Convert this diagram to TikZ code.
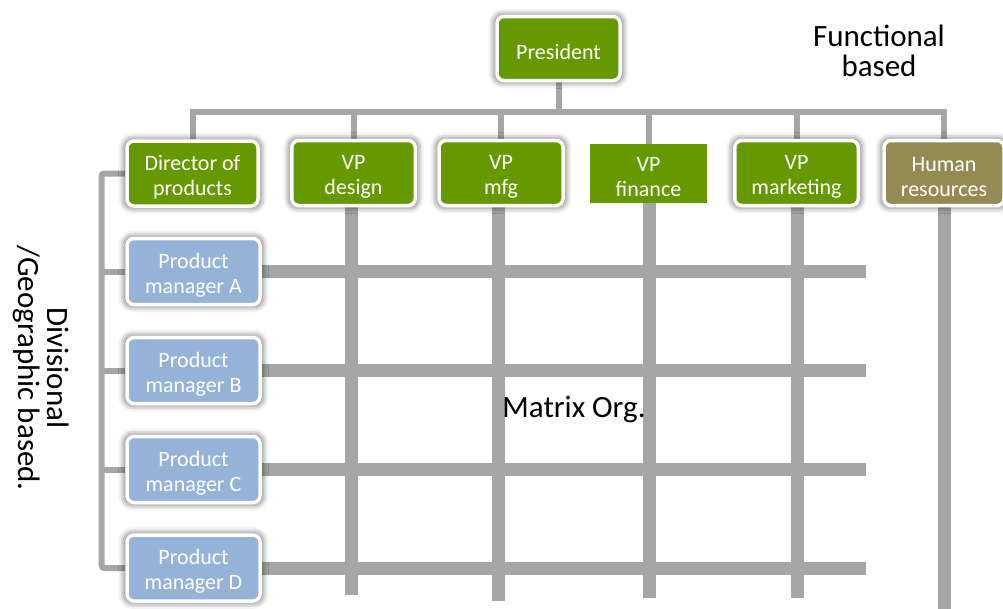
\documentclass[tikz,border=0pt]{standalone}
\usepackage{fontspec}
\setmainfont{Carlito}
\usetikzlibrary{shadows.blur,backgrounds}
\definecolor{boxgreen}{RGB}{102,153,0}
\definecolor{boxblue}{RGB}{149,179,215}
\definecolor{boxolive}{RGB}{148,138,84}
\definecolor{linegray}{RGB}{166,166,166}
% taller first line so the label sits a little low in its box
\newcommand{\liftline}{\rule{0pt}{22pt}}

\begin{document}
\begin{tikzpicture}[x=1pt,y=-1pt,
  unit/.style={rounded corners=7pt, draw=white, line width=3.5pt,
    minimum height=65pt, inner sep=0pt, text=white, align=center,
    font=\fontsize{22}{25}\selectfont,
    blur shadow={shadow xshift=0pt, shadow yshift=0pt,
      shadow blur radius=7pt, shadow opacity=75, shadow scale=1.02}},
  plainunit/.style={rectangle, inner sep=0pt, text=white, align=center,
    font=\fontsize{22}{25}\selectfont},
  thinline/.style={draw=linegray, line width=6pt},
  thickline/.style={draw=linegray, line width=13pt},
  caption/.style={inner sep=0pt, text=black, align=center,
    font=\fontsize{31}{29.5}\selectfont}]
\useasboundingbox (0,0) rectangle (1003,608);

% top of the hierarchy
\node[unit, fill=boxgreen, minimum width=123pt, minimum height=64pt]
  (pres) at (558.5,48.5) {\liftline President};

% functional heads
\node[unit, fill=boxgreen, minimum width=131pt] (dir) at (192.5,173.5) {\liftline Director of\\products};
\node[unit, fill=boxgreen, minimum width=123.5pt] (design) at (353.5,173) {\liftline VP\\design};
\node[unit, fill=boxgreen, minimum width=124pt] (mfg) at (501,173) {\liftline VP\\mfg};
\node[plainunit, fill=boxgreen, minimum width=117pt, minimum height=59pt]
  (fin) at (648.5,173.5) {\liftline VP\\finance};
\node[unit, fill=boxgreen, minimum width=123.5pt] (mkt) at (796.5,173) {\liftline VP\\marketing};
\node[unit, fill=boxolive, minimum width=120pt] (hr) at (944,173) {\liftline Human\\resources};

% product managers
\node[unit, fill=boxblue, minimum width=133pt, minimum height=66pt] (pmA) at (193.5,271.5) {\liftline Product\\manager A};
\node[unit, fill=boxblue, minimum width=133pt, minimum height=66pt] (pmB) at (193.5,370.5) {\liftline Product\\manager B};
\node[unit, fill=boxblue, minimum width=133pt, minimum height=66pt] (pmC) at (193.5,469.5) {\liftline Product\\manager C};
\node[unit, fill=boxblue, minimum width=133pt, minimum height=66pt] (pmD) at (193.5,568) {\liftline Product\\manager D};

% captions
\node[caption, anchor=north] (functional) at (879,25) {Functional\\based};
\node[caption, anchor=base] (matrix) at (574,417) {Matrix Org.};
\node[caption, rotate=-90] (divisional) at (41,368)
  {Divisional\\/Geographic based.};

% junction points and free ends of the grid lines
\coordinate (bus) at (558.5,111.5);
\coordinate (spine) at (101.5,173.5);
\coordinate (rowEnd) at (866,0);
\coordinate (designEnd) at (0,595);
\coordinate (mfgEnd) at (0,601);
\coordinate (finEnd) at (0,598);
\coordinate (mktEnd) at (0,598);
\coordinate (hrEnd) at (0,612);

\begin{pgfonlayer}{background}
  % reporting lines
  \draw[thinline] (pres.south) -- (bus);
  \draw[thinline] (dir.north) |- (bus) -| (hr.north);
  \draw[thinline] (design.north) -- (design.north |- bus);
  \draw[thinline] (mfg.north) -- (mfg.north |- bus);
  \draw[thinline] (fin.north) -- (fin.north |- bus);
  \draw[thinline] (mkt.north) -- (mkt.north |- bus);
  \draw[thinline, rounded corners=3pt] (dir.west) -- (dir.west -| spine) |- (pmD.west);
  \draw[thinline] (pmA.west -| spine) -- (pmA.west);
  \draw[thinline] (pmB.west -| spine) -- (pmB.west);
  \draw[thinline] (pmC.west -| spine) -- (pmC.west);

  % matrix grid: functional columns
  \draw[thickline] ([xshift=-2pt]design.south) -- ([xshift=-2pt]design.south |- designEnd);
  \draw[thickline] ([xshift=-2.5pt]mfg.south) -- ([xshift=-2.5pt]mfg.south |- mfgEnd);
  \draw[thickline] ([xshift=1pt]fin.south) -- ([xshift=1pt]fin.south |- finEnd);
  \draw[thickline] ([xshift=1pt]mkt.south) -- ([xshift=1pt]mkt.south |- mktEnd);
  \draw[thickline] (hr.south) -- (hr.south |- hrEnd);

  % matrix grid: product rows
  \draw[thickline] (pmA.east) -- (pmA.east -| rowEnd);
  \draw[thickline] (pmB.east) -- (pmB.east -| rowEnd);
  \draw[thickline] (pmC.east) -- (pmC.east -| rowEnd);
  \draw[thickline] (pmD.east) -- (pmD.east -| rowEnd);
\end{pgfonlayer}
\end{tikzpicture}
\end{document}
